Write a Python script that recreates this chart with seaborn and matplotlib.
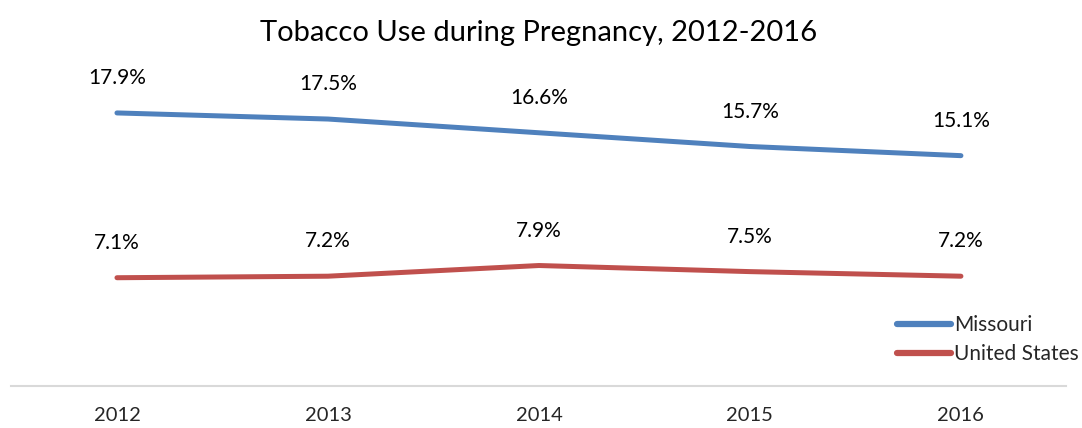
import matplotlib
matplotlib.use("Agg")
import matplotlib.pyplot as plt
import seaborn as sns
import pandas as pd

years = ["2012", "2013", "2014", "2015", "2016"]
missouri = [17.9, 17.5, 16.6, 15.7, 15.1]
united_states = [7.1, 7.2, 7.9, 7.5, 7.2]
series_names = ["Missouri", "United States"]
colors = ["#4F81BD", "#C0504D"]

sns.set_theme(style="white")
plt.rcParams["font.family"] = ["Lato", "DejaVu Sans"]

df = pd.DataFrame({
    "year": years * 2,
    "x": list(range(len(years))) * 2,
    "value": missouri + united_states,
    "series": [series_names[0]] * len(years) + [series_names[1]] * len(years),
})

fig = plt.figure(figsize=(10.82, 4.28), dpi=100)
ax = fig.add_axes([0.0106, 0.098, 0.975, 0.713])

sns.lineplot(data=df, x="x", y="value", hue="series", palette=colors,
             linewidth=3.6, ax=ax, legend=True, solid_capstyle="round")

for vals, name in [(missouri, series_names[0]), (united_states, series_names[1])]:
    for i, v in enumerate(vals):
        ax.annotate(f"{v:.1f}%", (i, v), xytext=(0, 18), textcoords="offset points",
                    ha="center", va="bottom", fontsize=15, color="#000000")

ax.set_xlim(-0.5, 4.5)
ax.set_ylim(0, 20)
ax.set_xticks(range(len(years)))
ax.set_xticklabels(years, fontsize=14.5)
ax.tick_params(axis="x", length=0, pad=15)
ax.set_yticks([])
ax.set_xlabel("")
ax.set_ylabel("")
for s in ["top", "right", "left"]:
    ax.spines[s].set_visible(False)
ax.spines["bottom"].set_color("#D9D9D9")
ax.spines["bottom"].set_linewidth(1.5)

ax.set_title("Tobacco Use during Pregnancy, 2012-2016", fontsize=21, pad=29, color="#000000")

leg = ax.legend(loc="lower right", bbox_to_anchor=(1.02, 0.045), frameon=False,
                fontsize=15, handlelength=2.6, handletextpad=0.15, labelspacing=0.42,
                borderaxespad=0)
for line in leg.get_lines():
    line.set_linewidth(4.5)

fig.savefig("out.png", dpi=100)
